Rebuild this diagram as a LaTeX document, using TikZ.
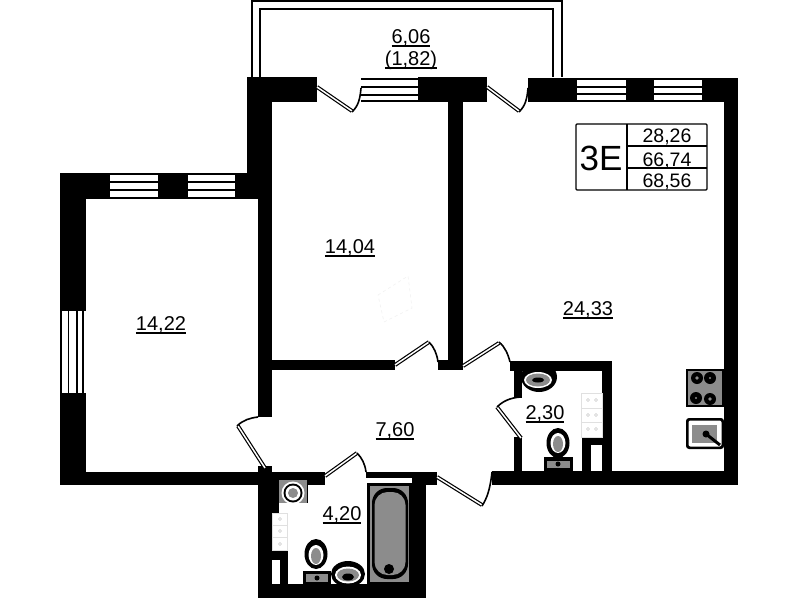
\documentclass[tikz,border=0pt]{standalone}
\usepackage{fontspec}
\setmainfont{Liberation Sans}
\definecolor{fixturegray}{HTML}{8C8C8C}
\newcommand{\areatext}[1]{\vtop{\hbox{\smash{#1}}\kern 2.4pt\hrule height 1.2pt}}

\begin{document}
\begin{tikzpicture}[x=1pt,y=-1pt,
                    wall part/.style={fill=black},
                    window line/.style={draw=black,line width=1.7pt},
                    door leaf/.style={draw=black,line width=1.2pt,double=white,double distance=1.5pt},
                    door arc/.style={draw=black,line width=1.6pt},
                    balcony line/.style={draw=black,line width=2pt},
                    fixture/.style={fill=fixturegray,draw=black,line width=2pt},
                    tile cell/.style={draw=black!12,fill=white,line width=0.5pt},
                    tile dot/.style={draw=black!45,line width=0.3pt},
                    area label/.style={anchor=base,font=\fontsize{20}{22}\selectfont},
                    plate label/.style={anchor=base,font=\fontsize{19.5}{22}\selectfont}]

  \useasboundingbox (0,0) rectangle (799,600);
  \fill[white] (0,0) rectangle (799,600);

  %Balcony%
  \draw[balcony line] (252,77) -- (252,1) -- (562,1) -- (562,77);
  \draw[balcony line] (260,77) -- (260,9) -- (553,9) -- (553,77);

  %Sink and toilet, shower room%
  \fill[black] (539,377) ellipse [x radius=18,y radius=15];
  \fill[white] (538,380) ellipse [x radius=14,y radius=8];
  \fill[fixturegray] (538,380) ellipse [x radius=12,y radius=6.5];
  \fill[black] (538,380) ellipse [x radius=6,y radius=2.5];
  \fill[black] (558,443) ellipse [x radius=11.5,y radius=15];
  \fill[white] (558,443) ellipse [x radius=7.5,y radius=10];
  \fill[fixturegray] (558,444) ellipse [x radius=5,y radius=8];
  \fill[black] (544,457) rectangle (573,471);
  \fill[fixturegray] (547,461) rectangle (570,468);
  \fill[black] (558,464) circle [radius=2.5];

  %Sink, toilet and bath, bathroom%
  \fill[black] (348,574) ellipse [x radius=17,y radius=13];
  \fill[white] (348,575) ellipse [x radius=13,y radius=8.5];
  \fill[fixturegray] (348,575) ellipse [x radius=11,y radius=6.5];
  \fill[black] (348,577) ellipse [x radius=6,y radius=3.5];
  \fill[black] (316,554) ellipse [x radius=11.5,y radius=15];
  \fill[white] (316,555) ellipse [x radius=7.5,y radius=10];
  \fill[fixturegray] (316,556) ellipse [x radius=5,y radius=8];
  \fill[black] (303,571) rectangle (331,584);
  \fill[fixturegray] (306,574) rectangle (328,582);
  \fill[black] (317,578) circle [radius=2.5];
  \fill[black] (367,483) rectangle (412,584);
  \fill[fixturegray] (370,486) rectangle (409,582);
  \fill[black, rounded corners=15pt] (372,488) rectangle (408,579);
  \fill[fixturegray, rounded corners=13pt] (374.5,492) rectangle (405.5,575);
  \fill[black] (389,569) circle [radius=5];

  %Walls%
  \fill[wall part] (60,173) rectangle (86,311);
  \fill[wall part] (60,393) rectangle (86,484);
  \fill[wall part] (60,173) rectangle (110,199);
  \fill[wall part] (158,173) rectangle (188,199);
  \fill[wall part] (235,173) rectangle (272,199);
  \fill[wall part] (247,77) rectangle (272,199);
  \fill[wall part] (247,77) rectangle (317,102);
  \fill[wall part] (258,199) rectangle (272,417);
  \fill[wall part] (272,360) rectangle (395,370);
  \fill[wall part] (418,77) rectangle (487,102);
  \fill[wall part] (528,78) rectangle (577,102);
  \fill[wall part] (626,78) rectangle (654,102);
  \fill[wall part] (702,78) rectangle (738,102);
  \fill[wall part] (724,78) rectangle (738,485);
  \fill[wall part] (448,102) rectangle (463,370);
  \fill[wall part] (438,360) rectangle (463,370);
  \fill[wall part] (510,361) rectangle (612,371);
  \fill[wall part] (602,361) rectangle (612,471);
  \fill[wall part] (514,361) rectangle (522,398);
  \fill[wall part] (514,437) rectangle (522,471);
  \fill[wall part] (60,472) rectangle (325,485);
  \fill[wall part] (258,466) rectangle (272,472);
  \fill[wall part] (366,472) rectangle (412,478);
  \fill[wall part] (412,472) rectangle (437,485);
  \fill[wall part] (492,471) rectangle (738,485);
  \fill[wall part] (412,478) rectangle (426,598);
  \fill[wall part] (258,485) rectangle (272,598);
  \fill[wall part] (272,485) rectangle (279,513);
  \fill[wall part] (258,584) rectangle (426,598);

  %Shafts%
  \fill[wall part] (272,550) rectangle (288,560);
  \fill[wall part] (280,560) rectangle (288,584);
  \fill[wall part] (582,437) rectangle (602,445);
  \fill[wall part] (582,445) rectangle (591,471);

  %Windows%
  \draw[window line] (110,174) -- (158,174) (110,182) -- (158,182) (110,190) -- (158,190) (110,198) -- (158,198);
  \draw[window line] (188,174) -- (235,174) (188,182) -- (235,182) (188,190) -- (235,190) (188,198) -- (235,198);
  \draw[window line] (61,311) -- (61,393) (68.5,311) -- (68.5,393) (77,311) -- (77,393) (83,311) -- (83,393);
  \draw[window line] (361,79) -- (418,79) (361,87) -- (418,87) (361,95) -- (418,95) (361,101) -- (418,101);
  \draw[window line] (577,79) -- (626,79) (577,87) -- (626,87) (577,94) -- (626,94) (577,101) -- (626,101);
  \draw[window line] (654,79) -- (702,79) (654,87) -- (702,87) (654,94) -- (702,94) (654,101) -- (702,101);

  %Doors%
  \draw[door leaf] (317,87) -- (352,111);
  \draw[door arc] (352,112) .. controls (358,106) and (360,100) .. (361,88);
  \draw[door leaf] (487,87) -- (519,111);
  \draw[door arc] (519,112) .. controls (525,106) and (527,100) .. (528,88);
  \draw[door leaf] (395,365) -- (429,342);
  \draw[door arc] (429,342) .. controls (434,347) and (437,354) .. (438,362);
  \draw[door leaf] (463,366) -- (499,343);
  \draw[door arc] (499,342) .. controls (505,347) and (508,354) .. (510,362);
  \draw[door leaf] (265,468) -- (238,426);
  \draw[door arc] (237,426) .. controls (243,420) and (250,418) .. (258,417);
  \draw[door leaf] (325,476) -- (357,453);
  \draw[door arc] (357,453) .. controls (362,458) and (365,464) .. (366,472);
  \draw[door leaf] (437,477) -- (482,505);
  \draw[door arc] (482,506) .. controls (487,498) and (490,490) .. (492,472);
  \draw[door leaf] (521,438) -- (497,407);
  \draw[door arc] (497,407) .. controls (503,401) and (510,398) .. (520,397);

  %Fixtures over the walls%
  \fill[fixturegray] (278,480) rectangle (308,503);
  \draw[black, line width=1.2pt] (278.6,480) -- (278.6,503) (307.4,480) -- (307.4,503);
  \fill[white] (293,493) circle [radius=11.5];
  \fill[black] (293,493) circle [radius=9.5];
  \fill[white] (293,493) circle [radius=7.5];
  \fill[fixturegray] (293,493) circle [radius=5];

  %Tiles%
  \draw[tile cell] (272,513) rectangle (287,525);
  \draw[tile cell] (272,525) rectangle (287,537);
  \draw[tile cell] (272,537) rectangle (287,550);
  \draw[tile dot] (280,519) circle [radius=1.5];
  \draw[tile dot] (280,531) circle [radius=1.5];
  \draw[tile dot] (280,544) circle [radius=1.5];
  \draw[tile cell] (581,393) rectangle (602,408);
  \draw[tile cell] (581,408) rectangle (602,422);
  \draw[tile cell] (581,422) rectangle (602,437);
  \draw[tile dot] (588,400) circle [radius=1.5];
  \draw[tile dot] (596,400) circle [radius=1.5];
  \draw[tile dot] (588,415) circle [radius=1.5];
  \draw[tile dot] (596,415) circle [radius=1.5];
  \draw[tile dot] (588,429) circle [radius=1.5];
  \draw[tile dot] (596,429) circle [radius=1.5];

  %Kitchen%
  \draw[fixture] (687,370) rectangle (723,406);
  \fill[black] (697,378) circle [radius=6];
  \fill[black] (710,378) circle [radius=6];
  \fill[black] (696,398) circle [radius=6];
  \fill[black] (710,399) circle [radius=6];
  \fill[fixturegray] (697,378) circle [radius=1.8];
  \fill[fixturegray] (710,378) circle [radius=1.2];
  \fill[fixturegray] (696,398) circle [radius=1.2];
  \fill[fixturegray] (710,399) circle [radius=1.8];
  \fill[black, rounded corners=3pt] (686,418) rectangle (724,449);
  \fill[white, rounded corners=2pt] (688.5,420.5) rectangle (721.5,446.5);
  \fill[fixturegray] (692,425) rectangle (717,443);
  \fill[black] (706,434) circle [radius=3.5];
  \draw[black, line width=3pt] (706,434) -- (720,445);

  %Faint mark%
  \draw[black!6, line width=0.5pt, dashed] (378,295) -- (408,276) -- (412,308) -- (384,322) -- cycle;

  %Plate%
  \draw[black, line width=1.2pt, rounded corners=1pt] (576,124) rectangle (707,190);
  \draw[black, line width=1.2pt] (627,124) -- (627,190);
  \draw[black, line width=1.2pt] (627,146) -- (707,146);
  \draw[black, line width=1.2pt] (627,168) -- (707,168);
  \node[anchor=base,font=\fontsize{35}{36}\selectfont] (plate name) at (601,170) {3E};
  \node[plate label] (plate living) at (667,142) {28,26};
  \node[plate label] (plate total) at (667,166) {66,74};
  \node[plate label] (plate full) at (667,187) {68,56};

  %Areas%
  \node[area label] (balcony area) at (411,43) {\areatext{6,06}};
  \node[area label] (balcony reduced) at (411,65) {\areatext{(1,82)}};
  \node[area label] (room a) at (161,330) {\areatext{14,22}};
  \node[area label] (room b) at (350,253) {\areatext{14,04}};
  \node[area label] (kitchen) at (588,315) {\areatext{24,33}};
  \node[area label] (hall) at (395,436) {\areatext{7,60}};
  \node[area label] (bathroom) at (342,520) {\areatext{4,20}};
  \node[area label] (shower) at (545,419) {\areatext{2,30}};
\end{tikzpicture}
\end{document}
